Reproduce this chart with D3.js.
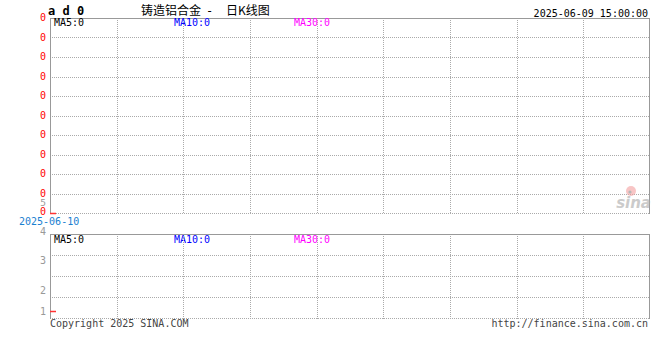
<!DOCTYPE html>
<html>
<head>
<meta charset="utf-8">
<script src="https://cdn.jsdelivr.net/npm/d3@7"></script>
<style>
  body { margin: 0; background: #fff; }
  svg { display: block; }
  text { font-family: "DejaVu Sans Mono", monospace; font-size: 10px; }
</style>
</head>
<body>
<svg width="660" height="360"></svg>
<script>
// data
var dates = ["2025-06-10"];
var closes = [0];
var volumes = [1];
var priceTicks = [0, 1, 2, 3, 4, 5, 6, 7, 8, 9, 10];
var priceLabels = ["0", "0", "0", "0", "0", "0", "0", "0", "0", "0", "0"];
var volTicks = [1, 2, 3, 4];
var maNames = ["MA5:0", "MA10:0", "MA30:0"];
var maColors = ["#000", "#0000ff", "#ff00ff"];

var svg = d3.select("svg");
var left = 50, right = 650;
var gridColor = "#aaa";

var x = d3.scaleLinear().domain([0, 9]).range([left, right]);
var yPrice = d3.scaleLinear().domain([0, 10]).range([213, 18]);
var yVol = d3.scaleLinear().domain([1, 2, 3, 4]).range([311, 290, 260, 231]);
var volTop = 234, volBottom = 318;

// header
svg.append("text").attr("x", 48).attr("y", 14.5)
  .style("font-size", "12px").style("font-weight", "bold")
  .attr("xml:space", "preserve").text("a d 0");
svg.append("text").attr("x", 141).attr("y", 15)
  .style("font-family", "'Noto Sans CJK SC', sans-serif").style("font-size", "12px")
  .text("铸造铝合金");
svg.append("text").attr("x", 206).attr("y", 15)
  .style("font-size", "12px").text("-");
svg.append("text").attr("x", 226).attr("y", 15)
  .style("font-family", "'Noto Sans CJK SC', sans-serif").style("font-size", "12px")
  .text("日K线图");
svg.append("text").attr("x", 648).attr("y", 17).attr("text-anchor", "end")
  .text("2025-06-09 15:00:00");

function panel(yTop, yBottom, rows) {
  var g = svg.append("g");
  g.selectAll("line.h").data(rows).enter().append("line")
    .attr("x1", left).attr("x2", right)
    .attr("y1", function (d) { return d + 0.5; })
    .attr("y2", function (d) { return d + 0.5; })
    .attr("stroke", gridColor).attr("stroke-dasharray", "1,1");
  g.selectAll("line.v").data(d3.range(1, 9)).enter().append("line")
    .attr("x1", function (d) { return Math.round(x(d)) + 0.5; })
    .attr("x2", function (d) { return Math.round(x(d)) + 0.5; })
    .attr("y1", yTop).attr("y2", yBottom + 1)
    .attr("stroke", gridColor).attr("stroke-dasharray", "1,1");
  g.append("line").attr("x1", left + 0.5).attr("x2", left + 0.5)
    .attr("y1", yTop).attr("y2", yBottom + 1).attr("stroke", "#999");
  g.append("line").attr("x1", right - 0.5).attr("x2", right - 0.5)
    .attr("y1", yTop).attr("y2", yBottom + 1).attr("stroke", "#999");
  g.append("line").attr("x1", left).attr("x2", right)
    .attr("y1", yTop + 0.5).attr("y2", yTop + 0.5).attr("stroke", "#999");
  return g;
}

// price panel
var pricePanel = panel(18, 213, priceTicks.map(function (d) { return Math.round(yPrice(d)); }));
pricePanel.selectAll("text.lab").data(priceTicks).enter().append("text")
  .attr("x", 46).attr("y", function (d) { return yPrice(d) + (d === 0 ? 2 : 3); })
  .attr("text-anchor", "end").attr("fill", "#f00")
  .text(function (d, i) { return priceLabels[i]; });
svg.append("text").attr("x", 46).attr("y", 205.5).attr("text-anchor", "end")
  .attr("fill", "#999").style("font-size", "9.5px").text("5");

// MA legends
[26, 243].forEach(function (yy) {
  svg.append("g").selectAll("text").data(maNames).enter().append("text")
    .attr("x", function (d, i) { return 54 + i * 120; })
    .attr("y", yy)
    .attr("fill", function (d, i) { return maColors[i]; })
    .text(function (d) { return d; });
});

// sina watermark
var logo = svg.append("g").attr("opacity", 0.6);
logo.append("circle").attr("cx", 631).attr("cy", 191).attr("r", 5).attr("fill", "#f4a0a0");
logo.append("circle").attr("cx", 630).attr("cy", 192).attr("r", 1.6).attr("fill", "#888");
logo.append("text").attr("x", 651).attr("y", 208).attr("text-anchor", "end")
  .style("font-family", "'DejaVu Sans', sans-serif").style("font-size", "15px")
  .style("font-style", "italic").style("font-weight", "bold")
  .attr("fill", "#aaa").text("sina");

// price marks
svg.append("g").selectAll("line").data(closes).enter().append("line")
  .attr("x1", function (d, i) { return x(i); })
  .attr("x2", function (d, i) { return x(i) + 6; })
  .attr("y1", function (d) { return yPrice(d) + 0.5; })
  .attr("y2", function (d) { return yPrice(d) + 0.5; })
  .attr("stroke", "#f33").attr("stroke-width", 1.5);

// date label
svg.append("text").attr("x", 19).attr("y", 225).attr("fill", "#1a80d0")
  .text(dates[0]);

// volume panel
var volPanel = panel(volTop, volBottom, d3.range(0, 5).map(function (i) { return volTop + i * 21; }));
volPanel.selectAll("text.lab").data(volTicks).enter().append("text")
  .attr("x", 46).attr("y", function (d) { return yVol(d) + 4; })
  .attr("text-anchor", "end").attr("fill", "#999")
  .text(function (d) { return d; });
svg.append("g").selectAll("line").data(volumes).enter().append("line")
  .attr("x1", function (d, i) { return x(i); })
  .attr("x2", function (d, i) { return x(i) + 6; })
  .attr("y1", function (d) { return yVol(d) + 0.5; })
  .attr("y2", function (d) { return yVol(d) + 0.5; })
  .attr("stroke", "#f33").attr("stroke-width", 1.5);

// footer
svg.append("text").attr("x", 50).attr("y", 327).attr("fill", "#444")
  .text("Copyright 2025 SINA.COM");
svg.append("text").attr("x", 648).attr("y", 327).attr("text-anchor", "end")
  .attr("fill", "#444").text("http://finance.sina.com.cn");
</script>
</body>
</html>
